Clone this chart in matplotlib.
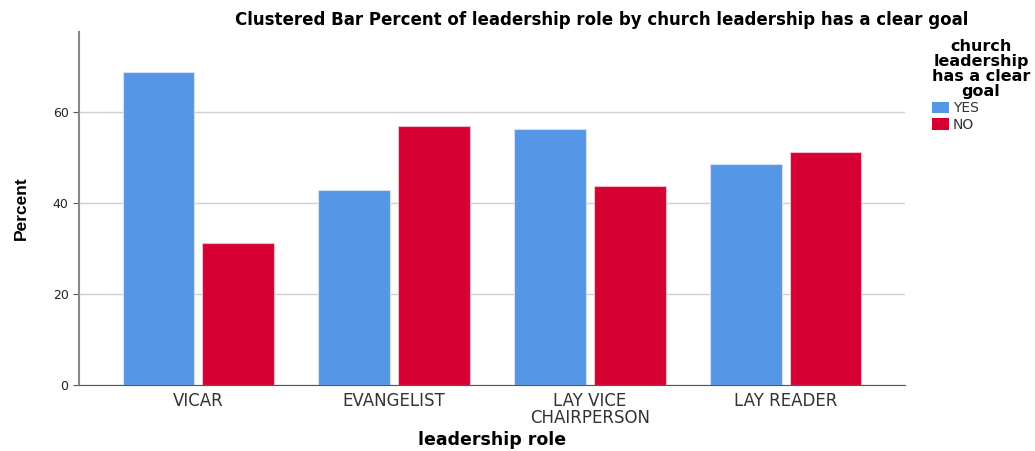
import numpy as np
from matplotlib import pyplot as plt
from matplotlib.patches import Patch

plt.rcParams['font.family'] = ['DejaVu Sans']

roles = ['VICAR', 'EVANGELIST', 'LAY VICE\nCHAIRPERSON', 'LAY READER']
yes_pct = [68.8, 42.9, 56.3, 48.7]
no_pct = [31.3, 57.1, 43.8, 51.3]
groups = ['YES', 'NO']
colors = ['#5596e6', '#d60032']

fig = plt.figure(figsize=(10.35, 4.51), dpi=100)
ax = fig.add_axes([0.0763, 0.1463, 0.798, 0.783])

x = np.arange(len(roles))
w = 0.367
off = 0.204
ax.bar(x - off, yes_pct, w, color=colors[0], edgecolor='#cfe0f7', linewidth=0.8, zorder=2)
ax.bar(x + off, no_pct, w, color=colors[1], edgecolor='#f2b8c6', linewidth=0.8, zorder=2)

ax.set_xlim(-0.61, 3.61)
ax.set_ylim(0, 77.7)
ax.set_yticks([0, 20, 40, 60])
ax.yaxis.grid(True, color='#d0d0d0', linewidth=1, zorder=0)
ax.set_axisbelow(True)
ax.set_xticks(x)
ax.set_xticklabels(roles, fontsize=12, color='#333333', linespacing=0.9)
ax.tick_params(axis='y', labelsize=9, length=4, color='#555555', labelcolor='#222222')
ax.tick_params(axis='x', length=0, pad=5)
for s in ['top', 'right']:
    ax.spines[s].set_visible(False)
ax.spines['left'].set_color('#888888')
ax.spines['left'].set_linewidth(1.5)
ax.spines['bottom'].set_color('#555555')

ax.set_ylabel('Percent', fontsize=12.5, fontweight='bold', family='Liberation Sans', labelpad=17)
ax.set_xlabel('leadership role', fontsize=12.5, fontweight='bold', labelpad=3)
fig.text(0.581, 0.955, 'Clustered Bar Percent of leadership role by church leadership has a clear goal',
         ha='center', va='center', fontsize=12, fontweight='bold')

handles = [Patch(facecolor=c, edgecolor='none') for c in colors]
leg = fig.legend(handles, groups, loc='upper left', bbox_to_anchor=(0.895, 0.925),
                 frameon=False, fontsize=10, title='church\nleadership\nhas a clear\ngoal',
                 title_fontproperties={'weight': 'bold', 'size': 11.5},
                 handlelength=1.2, handleheight=0.9, handletextpad=0.3, labelspacing=0.15,
                 borderaxespad=0)
for t in leg.get_texts():
    t.set_color('#333333')
leg.get_title().set_multialignment('center')
leg.get_title().set_linespacing(1.0)
leg._legend_box.align = 'left'

fig.savefig('out.png', dpi=100)
